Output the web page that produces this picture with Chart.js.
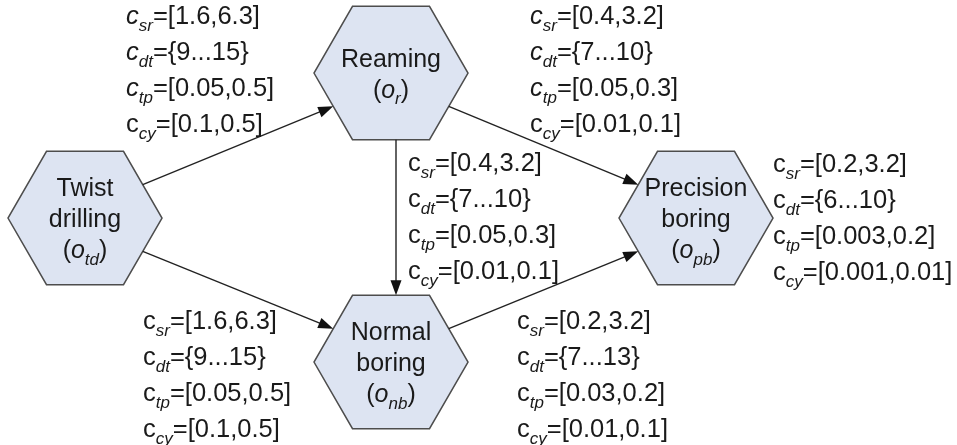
<!DOCTYPE html>
<html>
<head>
<meta charset="utf-8">
<script src="https://cdn.jsdelivr.net/npm/chart.js@4.4.1/dist/chart.umd.min.js"></script>
<style>
  html, body { margin: 0; padding: 0; background: #fff; }
  #wrap { width: 957px; height: 445px; position: relative; }
</style>
</head>
<body>
<div id="wrap"><canvas id="flow"></canvas></div>
<script>
// ── NODES (operations) ──
const nodeNames = [['Twist', 'drilling'], ['Reaming'], ['Normal', 'boring'], ['Precision', 'boring']];
const nodeSubs  = ['td', 'r', 'nb', 'pb'];
const nodeX     = [85, 391, 391, 696];
const nodeY     = [218, 73, 362, 218];

// ── EDGES (from node / side -> to node / side) ──
const edgeFrom     = [0, 0, 1, 1, 2];
const edgeTo       = [1, 2, 3, 2, 3];
const edgeFromSide = ['ne', 'se', 'se', 's', 'ne'];
const edgeToSide   = ['sw', 'nw', 'nw', 'n', 'sw'];

// ── PARAMETER RANGES ──
const paramNames = ['sr', 'dt', 'tp', 'cy'];
const rangesTdR  = ['[1.6,6.3]', '{9...15}', '[0.05,0.5]', '[0.1,0.5]'];
const rangesRPb  = ['[0.4,3.2]', '{7...10}', '[0.05,0.3]', '[0.01,0.1]'];
const rangesRNb  = ['[0.4,3.2]', '{7...10}', '[0.05,0.3]', '[0.01,0.1]'];
const rangesPb   = ['[0.2,3.2]', '{6...10}', '[0.003,0.2]', '[0.001,0.01]'];
const rangesTdNb = ['[1.6,6.3]', '{9...15}', '[0.05,0.5]', '[0.1,0.5]'];
const rangesNbPb = ['[0.2,3.2]', '{7...13}', '[0.03,0.2]', '[0.01,0.1]'];

// where each block of ranges sits (left x, first line y), and which 'c' are italic
const blocks = [
  { vals: rangesTdR,  x: 126, y: 15,  italicC: [true, true, true, false] },
  { vals: rangesRPb,  x: 530, y: 15,  italicC: [true, true, true, false] },
  { vals: rangesRNb,  x: 408, y: 162, italicC: [false, false, false, false] },
  { vals: rangesPb,   x: 773, y: 163, italicC: [false, false, false, false] },
  { vals: rangesTdNb, x: 143, y: 320, italicC: [false, false, false, false] },
  { vals: rangesNbPb, x: 517, y: 320, italicC: [false, false, false, false] }
];

const HEX_R    = 77;
const FONT     = "'Liberation Sans', Arial, sans-serif";
const TXT      = '#1a1a1a';
const HEX_FILL = '#dde4f2';
const HEX_LINE = '#4d4d4d';
const LABEL_SIZE = 25;
const PARAM_SIZE = 25.5;

function fontStr(size, italic) {
  return (italic ? 'italic ' : '') + size + 'px ' + FONT;
}

// runs of segments {t, it, sub}
function runWidth(ctx, segs, size) {
  let w = 0;
  segs.forEach(s => {
    ctx.font = fontStr(s.sub ? Math.round(size * 0.68) : size, s.it);
    w += ctx.measureText(s.t).width;
  });
  return w;
}
function drawRun(ctx, segs, x, y, size) {
  segs.forEach(s => {
    const sz = s.sub ? Math.round(size * 0.68) : size;
    ctx.font = fontStr(sz, s.it);
    ctx.fillText(s.t, x, y + (s.sub ? size * 0.26 : 0));
    x += ctx.measureText(s.t).width;
  });
}

function sidePoint(cx, cy, r, side) {
  const a = r * Math.sqrt(3) / 2;
  switch (side) {
    case 'n':  return [cx, cy - a];
    case 's':  return [cx, cy + a];
    case 'ne': return [cx + 0.75 * r, cy - a / 2];
    case 'se': return [cx + 0.75 * r, cy + a / 2];
    case 'nw': return [cx - 0.75 * r, cy - a / 2];
    case 'sw': return [cx - 0.75 * r, cy + a / 2];
  }
}

const diagramPlugin = {
  id: 'diagram',
  afterDatasetsDraw(chart) {
    const ctx = chart.ctx;
    const xs = chart.scales.x, ys = chart.scales.y;
    const pts = chart.getDatasetMeta(0).data;
    const r = xs.getPixelForValue(HEX_R) - xs.getPixelForValue(0);

    ctx.save();
    // hexagons
    pts.forEach(p => {
      ctx.beginPath();
      for (let k = 0; k < 6; k++) {
        const ang = Math.PI / 3 * k;
        const px = p.x + r * Math.cos(ang), py = p.y + r * Math.sin(ang);
        k ? ctx.lineTo(px, py) : ctx.moveTo(px, py);
      }
      ctx.closePath();
      ctx.fillStyle = HEX_FILL;
      ctx.fill();
      ctx.lineWidth = 1.5;
      ctx.strokeStyle = HEX_LINE;
      ctx.stroke();
    });

    // arrows
    edgeFrom.forEach((f, i) => {
      const a = sidePoint(pts[f].x, pts[f].y, r, edgeFromSide[i]);
      const b = sidePoint(pts[edgeTo[i]].x, pts[edgeTo[i]].y, r, edgeToSide[i]);
      if (edgeFromSide[i] === 's') { a[0] += 5; b[0] += 5; }
      const ang = Math.atan2(b[1] - a[1], b[0] - a[0]);
      const L = 15, W = 5.5;
      ctx.strokeStyle = '#222';
      ctx.lineWidth = 1.4;
      ctx.beginPath();
      ctx.moveTo(a[0], a[1]);
      ctx.lineTo(b[0] - L * 0.8 * Math.cos(ang), b[1] - L * 0.8 * Math.sin(ang));
      ctx.stroke();
      ctx.fillStyle = '#111';
      ctx.beginPath();
      ctx.moveTo(b[0], b[1]);
      ctx.lineTo(b[0] - L * Math.cos(ang) + W * Math.sin(ang), b[1] - L * Math.sin(ang) - W * Math.cos(ang));
      ctx.lineTo(b[0] - L * Math.cos(ang) - W * Math.sin(ang), b[1] - L * Math.sin(ang) + W * Math.cos(ang));
      ctx.closePath();
      ctx.fill();
    });

    // node labels
    ctx.fillStyle = TXT;
    ctx.textBaseline = 'alphabetic';
    ctx.textAlign = 'left';
    const lh = 31;
    pts.forEach((p, i) => {
      const lines = nodeNames[i].map(t => [{ t }]);
      lines.push([{ t: '(' }, { t: 'o', it: true }, { t: nodeSubs[i], it: true, sub: true }, { t: ')' }]);
      const top = p.y - (lines.length - 1) * lh / 2;
      lines.forEach((segs, j) => {
        const w = runWidth(ctx, segs, LABEL_SIZE);
        drawRun(ctx, segs, p.x - w / 2, top + j * lh + LABEL_SIZE * 0.36, LABEL_SIZE);
      });
    });

    // parameter blocks
    blocks.forEach(b => {
      const bx = xs.getPixelForValue(b.x);
      b.vals.forEach((v, j) => {
        const by = ys.getPixelForValue(b.y + j * 36);
        drawRun(ctx, [
          { t: 'c', it: b.italicC[j] },
          { t: paramNames[j], it: true, sub: true },
          { t: '=' + v }
        ], bx, by + PARAM_SIZE * 0.36, PARAM_SIZE);
      });
    });
    ctx.restore();
  }
};

new Chart(document.getElementById('flow'), {
  type: 'scatter',
  data: {
    datasets: [{
      data: nodeX.map((x, i) => ({ x, y: nodeY[i] })),
      pointRadius: 0,
      pointHoverRadius: 0
    }]
  },
  options: {
    responsive: true,
    maintainAspectRatio: false,
    animation: false,
    events: [],
    layout: { padding: 0 },
    plugins: { legend: { display: false }, tooltip: { enabled: false } },
    scales: {
      x: { type: 'linear', min: 0, max: 957, display: false },
      y: { type: 'linear', min: 0, max: 445, reverse: true, display: false }
    }
  },
  plugins: [diagramPlugin]
});
</script>
</body>
</html>
